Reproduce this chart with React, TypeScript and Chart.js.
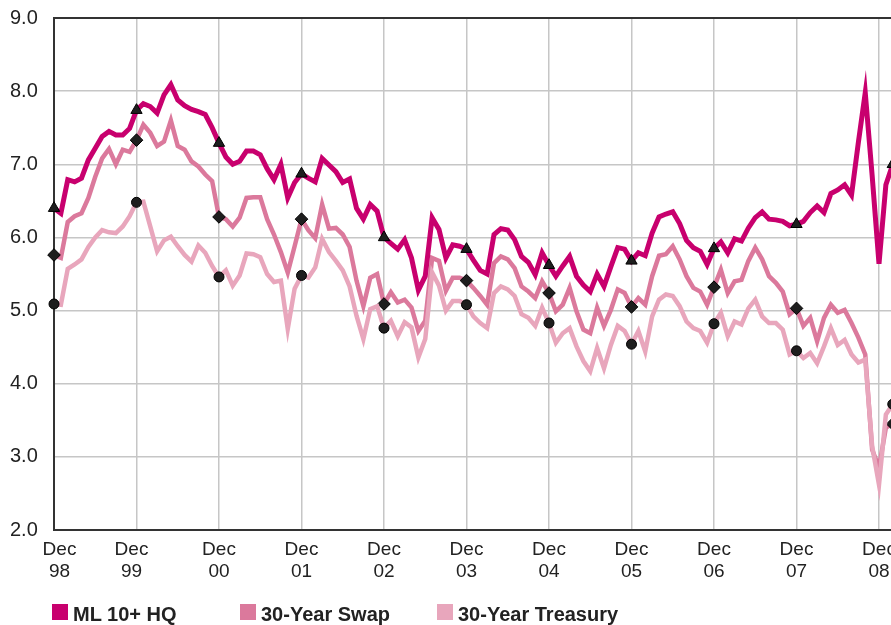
import React, { useEffect, useRef } from 'react';
import { Chart, registerables } from 'chart.js';

Chart.register(...registerables);

// Month index 0 = Dec 98, 12 = Dec 99, ... 120 = Dec 08, 122 = Feb 09
const yearLabels = ['98', '99', '00', '01', '02', '03', '04', '05', '06', '07', '08'];
const tickMonths = [0, 12, 24, 36, 48, 60, 72, 84, 96, 108, 120];
const markerMonths = [0, 12, 24, 36, 48, 60, 72, 84, 96, 108, 122];
const yTicks = [2, 3, 4, 5, 6, 7, 8, 9];

const seriesNames = ['ML 10+ HQ', '30-Year Swap', '30-Year Treasury'];
const seriesColors = ['#C8006E', '#DB799C', '#E8A6BC'];
const markerStyles = ['triangle', 'rectRot', 'circle'];

const mlHQ = [
  6.40, 6.33, 6.79, 6.76, 6.81, 7.06, 7.22, 7.38, 7.45, 7.40, 7.40, 7.49,
  7.74, 7.83, 7.79, 7.70, 7.95, 8.09, 7.88, 7.80, 7.75, 7.72, 7.68, 7.50,
  7.29, 7.10, 7.00, 7.04, 7.18, 7.18, 7.13, 6.94, 6.79, 7.00, 6.54, 6.75,
  6.87, 6.81, 6.76, 7.08, 6.99, 6.90, 6.75, 6.80, 6.40, 6.25, 6.45, 6.36,
  6.00, 5.92, 5.84, 5.97, 5.72, 5.28, 5.47, 6.27, 6.11, 5.72, 5.90, 5.88,
  5.84, 5.69, 5.55, 5.50, 6.04, 6.12, 6.10, 5.97, 5.74, 5.66, 5.49, 5.79,
  5.62, 5.47, 5.61, 5.74, 5.47, 5.35, 5.26, 5.50, 5.33, 5.60, 5.86, 5.84,
  5.68, 5.79, 5.75, 6.06, 6.28, 6.32, 6.35, 6.19, 5.96, 5.86, 5.81, 5.63,
  5.85, 5.94, 5.79, 5.98, 5.95, 6.13, 6.27, 6.35, 6.25, 6.24, 6.22, 6.16,
  6.18, 6.22, 6.34, 6.43, 6.34, 6.60, 6.65, 6.72, 6.58, 7.30, 7.98, 6.85,
  5.64, 6.72, 7.00,
];

const swap30 = [
  5.76, 5.72, 6.21, 6.29, 6.33, 6.54, 6.83, 7.08, 7.21, 7.00, 7.20, 7.17,
  7.33, 7.54, 7.43, 7.25, 7.31, 7.60, 7.25, 7.20, 7.04, 6.97, 6.86, 6.77,
  6.28, 6.25, 6.15, 6.27, 6.54, 6.55, 6.55, 6.25, 6.04, 5.80, 5.52, 5.88,
  6.25, 6.10, 5.99, 6.45, 6.12, 6.13, 6.04, 5.87, 5.41, 5.06, 5.45, 5.50,
  5.09, 5.25, 5.11, 5.15, 5.04, 4.72, 4.86, 5.72, 5.68, 5.27, 5.45, 5.45,
  5.41, 5.31, 5.20, 5.08, 5.65, 5.74, 5.70, 5.58, 5.33, 5.26, 5.17, 5.40,
  5.24, 4.99, 5.08, 5.31, 4.99, 4.74, 4.69, 5.04, 4.79, 5.01, 5.29, 5.24,
  5.05, 5.17, 5.08, 5.47, 5.75, 5.77, 5.88, 5.70, 5.47, 5.31, 5.26, 5.08,
  5.32, 5.56, 5.24, 5.40, 5.42, 5.68, 5.86, 5.70, 5.47, 5.38, 5.26, 4.95,
  5.03, 4.79, 4.90, 4.58, 4.90, 5.08, 4.97, 5.01, 4.83, 4.63, 4.40, 3.10,
  2.85, 3.40, 3.45,
];

const treasury30 = [
  5.09, 5.08, 5.57, 5.63, 5.70, 5.87, 6.00, 6.10, 6.07, 6.06, 6.15, 6.29,
  6.48, 6.49, 6.15, 5.81, 5.96, 6.01, 5.88, 5.76, 5.67, 5.89, 5.79, 5.61,
  5.46, 5.55, 5.34, 5.48, 5.78, 5.77, 5.73, 5.50, 5.39, 5.41, 4.75, 5.30,
  5.48, 5.45, 5.59, 5.98, 5.80, 5.68, 5.55, 5.33, 4.93, 4.61, 5.02, 5.06,
  4.76, 4.86, 4.65, 4.84, 4.77, 4.36, 4.61, 5.52, 5.34, 5.00, 5.13, 5.13,
  5.08, 4.92, 4.83, 4.76, 5.24, 5.33, 5.29, 5.20, 4.95, 4.90, 4.79, 5.04,
  4.83, 4.56, 4.69, 4.76, 4.51, 4.31, 4.17, 4.49, 4.21, 4.53, 4.79, 4.72,
  4.54, 4.72, 4.44, 4.92, 5.15, 5.22, 5.20, 5.06, 4.85, 4.76, 4.72, 4.56,
  4.82, 4.97, 4.65, 4.85, 4.81, 5.03, 5.15, 4.92, 4.83, 4.83, 4.74, 4.40,
  4.45, 4.35, 4.42, 4.28, 4.51, 4.76, 4.53, 4.60, 4.40, 4.29, 4.33, 3.15,
  2.62, 3.58, 3.72,
];

// small horizontal nudges of the first two x tick labels, as in the original
const labelNudge = [5.5, -5, 0, 0, 0, 0, 0, 0, 0, 0, 0];

const FONT = '"Liberation Sans", Arial, sans-serif';

const nudgePlugin = {
  id: 'labelNudge',
  beforeDraw(chart: any) {
    const scale = chart.scales.x;
    if (!scale) return;
    const items = scale.getLabelItems();
    items.forEach((it: any, idx: number) => {
      const px = scale.getPixelForValue(tickMonths[idx]);
      if (it.options && it.options.translation) {
        it.options.translation[0] = px + (labelNudge[idx] || 0);
      }
    });
  },
};

export default function App() {
  const canvasRef = useRef<HTMLCanvasElement | null>(null);

  useEffect(() => {
    if (!canvasRef.current) return;
    const allSeries = [mlHQ, swap30, treasury30];
    const radii = [6.5, 6.3, 5];
    const widths = [5, 4.5, 4.5];
    const orders = [0, 2, 1];
    const datasets = allSeries.map((vals, s) => ({
      label: seriesNames[s],
      data: vals.map((v, i) => ({ x: i, y: v })),
      borderColor: seriesColors[s],
      backgroundColor: seriesColors[s],
      borderWidth: widths[s],
      tension: 0,
      borderJoinStyle: 'miter' as const,
      pointStyle: markerStyles[s] as any,
      pointRadius: vals.map((_, i) => (markerMonths.includes(i) ? radii[s] : 0)),
      pointHoverRadius: 0,
      pointBackgroundColor: '#1e1e1e',
      pointBorderColor: '#000',
      pointBorderWidth: 1,
      order: orders[s],
      clip: false as any,
    }));

    const chart = new Chart(canvasRef.current, {
      type: 'line',
      data: { datasets },
      plugins: [nudgePlugin],
      options: {
        animation: false,
        responsive: false,
        devicePixelRatio: 1,
        events: [],
        layout: { padding: { top: 18, left: 10, right: 27.25, bottom: 0 } },
        plugins: { legend: { display: false }, tooltip: { enabled: false } },
        scales: {
          x: {
            type: 'linear',
            min: 0,
            max: 122,
            afterBuildTicks: (scale: any) => {
              scale.ticks = tickMonths.map((v) => ({ value: v }));
            },
            afterFit: (scale: any) => {
              scale.height = 95;
            },
            ticks: {
              autoSkip: false,
              maxRotation: 0,
              padding: 9,
              color: '#222',
              font: { family: FONT, size: 19, lineHeight: 1.16 },
              callback: (_v: any, idx: number) => ['Dec', yearLabels[idx]],
            },
            grid: { color: '#c6c6c6', lineWidth: 1.5, drawTicks: false },
            border: { color: '#333', width: 2 },
          },
          y: {
            min: 2,
            max: 9,
            afterBuildTicks: (scale: any) => {
              scale.ticks = yTicks.map((v) => ({ value: v }));
            },
            afterFit: (scale: any) => {
              scale.width = 44;
            },
            ticks: {
              padding: 0,
              crossAlign: 'far',
              color: '#222',
              font: { family: FONT, size: 20 },
              callback: (v: any) => Number(v).toFixed(1),
            },
            grid: {
              color: (ctx: any) => (ctx.tick && ctx.tick.value === 9 ? '#333' : '#c6c6c6'),
              lineWidth: (ctx: any) => (ctx.tick && ctx.tick.value === 9 ? 2 : 1.5),
              drawTicks: false,
            },
            border: { color: '#333', width: 2 },
          },
        },
      },
    });
    return () => chart.destroy();
  }, []);

  const legendX = [52, 240, 437];

  return (
    <div
      style={{
        position: 'absolute',
        left: 0,
        top: 0,
        width: 891,
        height: 625,
        overflow: 'hidden',
        background: '#fff',
      }}
    >
      <canvas ref={canvasRef} width={920} height={625} style={{ display: 'block', width: 920, height: 625 }} />
      {seriesNames.map((name, s) => (
        <div
          key={name}
          style={{
            position: 'absolute',
            left: legendX[s],
            top: 604,
            height: 20,
            display: 'flex',
            alignItems: 'flex-start',
            whiteSpace: 'nowrap',
          }}
        >
          <div style={{ width: 16, height: 16, background: seriesColors[s] }} />
          <div
            style={{
              marginLeft: 5,
              fontFamily: FONT,
              fontWeight: 'bold',
              fontSize: 20,
              lineHeight: '20px',
              color: '#222',
            }}
          >
            {name}
          </div>
        </div>
      ))}
    </div>
  );
}
